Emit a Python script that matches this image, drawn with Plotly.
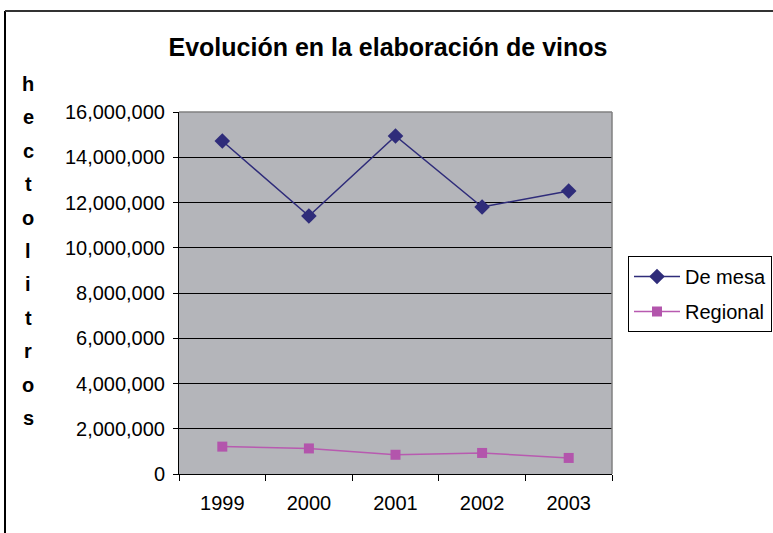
import plotly.graph_objects as go

# Wine production by type, in hectolitres
years = ["1999", "2000", "2001", "2002", "2003"]
de_mesa = [14720000, 11400000, 14940000, 11800000, 12510000]
regional = [1210000, 1130000, 850000, 930000, 710000]
y_ticks = [0, 2000000, 4000000, 6000000, 8000000, 10000000, 12000000, 14000000, 16000000]

title = "Evolución en la elaboración de vinos"
y_title = "hectolitros"

W, H = 773, 533
L, R, T, B = 179, 161, 112, 59
pw, ph = W - L - R, H - T - B

def px_x(x):
    return (x - L) / pw

def px_y(y):
    return (H - B - y) / ph

font = "Arial, Liberation Sans, sans-serif"

fig = go.Figure()
fig.add_trace(go.Scatter(
    x=years, y=de_mesa, name="De mesa", mode="lines+markers", legendgroup="a",
    line=dict(color="#2F2C7A", width=1.5),
    marker=dict(symbol="diamond", size=12, color="#2F2C7A"),
))
fig.add_trace(go.Scatter(
    x=years, y=regional, name="Regional", mode="lines+markers", legendgroup="b",
    line=dict(color="#B85AB0", width=1.5),
    marker=dict(symbol="square", size=10, color="#B355AC"),
))

# Vertical, letter-by-letter axis title
annotations = []
n = len(y_title)
for i, ch in enumerate(y_title):
    yc = 84 + i * (418 - 84) / (n - 1)
    annotations.append(dict(
        text=f"<b>{ch}</b>", x=px_x(28), y=px_y(yc), xref="paper", yref="paper",
        showarrow=False, xanchor="center", yanchor="middle",
        font=dict(family=font, size=20, color="black"),
    ))

# Outer frame of the chart area
bx0, by0 = px_x(5), px_y(11)
shapes = [
    dict(type="line", xref="paper", yref="paper", x0=bx0, x1=bx0, y0=by0, y1=px_y(H + 5),
         line=dict(color="black", width=2)),
    dict(type="line", xref="paper", yref="paper", x0=bx0, x1=px_x(W + 5), y0=by0, y1=by0,
         line=dict(color="#333333", width=2)),
    # gray plot-area border on top and right
    dict(type="line", xref="paper", yref="paper", x0=0, x1=1, y0=1, y1=1,
         line=dict(color="#808080", width=1.5)),
    dict(type="line", xref="paper", yref="paper", x0=1, x1=1, y0=0, y1=1,
         line=dict(color="#808080", width=1.5)),
]

fig.update_layout(
    width=W, height=H,
    margin=dict(l=L, r=R, t=T, b=B, autoexpand=False),
    paper_bgcolor="white", plot_bgcolor="#B4B5BA",
    title=dict(text=f"<b>{title}</b>", xref="container", x=388 / W, xanchor="center",
               yref="container", y=1 - 47 / H, yanchor="middle",
               font=dict(family=font, size=25, color="black")),
    font=dict(family=font, size=20, color="black"),
    xaxis=dict(
        type="category", tickson="boundaries", ticks="outside", ticklen=6,
        tickcolor="black", showline=True, linecolor="black", linewidth=1,
        showgrid=False, tickfont=dict(size=20), range=[-0.5, 4.5],
        ticklabelstandoff=11,
    ),
    yaxis=dict(
        range=[0, 16000000], tickvals=y_ticks, tickformat=",d",
        ticks="outside", ticklen=5, tickcolor="black",
        showline=True, linecolor="black", linewidth=1,
        showgrid=True, gridcolor="black", gridwidth=1, zeroline=False,
        tickfont=dict(size=20), ticklabelstandoff=4,
    ),
    legend=dict(
        x=px_x(628), y=px_y(256), xanchor="left", yanchor="top",
        bordercolor="black", borderwidth=1, bgcolor="white",
        font=dict(size=20), tracegroupgap=6, itemwidth=46,
    ),
    annotations=annotations,
    shapes=shapes,
    showlegend=True,
)

fig.write_html("out.html")
